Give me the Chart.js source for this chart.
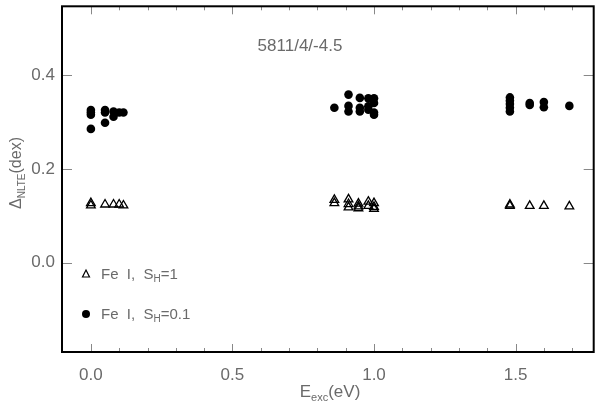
<!DOCTYPE html>
<html>
<head>
<meta charset="utf-8">
<script src="https://cdn.jsdelivr.net/npm/chart.js@4.4.0/dist/chart.umd.min.js"></script>
<style>
  html, body { margin: 0; padding: 0; background: #fff; }
  #wrap { width: 600px; height: 402px; }
</style>
</head>
<body>
<div id="wrap"><canvas id="nlteChart" width="600" height="402"></canvas></div>
<script>
// data
var eExcSH1 = [0.00, 0.00, 0.05, 0.08, 0.10, 0.115,
               0.86, 0.86, 0.91, 0.91, 0.91, 0.945, 0.945, 0.945, 0.98, 0.98, 1.00, 1.00, 1.00,
               1.48, 1.48, 1.55, 1.60, 1.69];
var nlteSH1 = [0.127, 0.122, 0.124, 0.124, 0.124, 0.122,
               0.134, 0.127, 0.135, 0.125, 0.118, 0.126, 0.120, 0.116, 0.130, 0.121, 0.127, 0.119, 0.115,
               0.124, 0.121, 0.121, 0.121, 0.120];

var eExcSH01 = [0.00, 0.00, 0.00, 0.00, 0.05, 0.05, 0.05, 0.08, 0.08, 0.10, 0.115,
                0.86, 0.91, 0.91, 0.91, 0.95, 0.95, 0.95, 0.98, 0.98, 0.98, 1.00, 1.00, 1.00, 1.00,
                1.48, 1.48, 1.48, 1.48, 1.48, 1.55, 1.55, 1.60, 1.60, 1.69];
var nlteSH01 = [0.325, 0.320, 0.315, 0.285, 0.325, 0.320, 0.298, 0.322, 0.311, 0.320, 0.320,
                0.330, 0.358, 0.334, 0.322, 0.351, 0.330, 0.322, 0.350, 0.333, 0.326, 0.350, 0.340, 0.320, 0.315,
                0.352, 0.345, 0.338, 0.330, 0.322, 0.340, 0.336, 0.342, 0.331, 0.334];

var xTickValues = [0.0, 0.5, 1.0, 1.5];
var yTickValues = [0.0, 0.2, 0.4];

var textGray = '#6a6a6a';
var fontFam = '"Liberation Sans", Arial, sans-serif';

function toPoints(xs, ys) {
    return xs.map(function (x, i) { return { x: x, y: ys[i] }; });
}

// draw a run of text pieces: [text, size, dy]
function drawRuns(ctx, runs, x, y, align) {
    var total = 0;
    runs.forEach(function (r) {
        ctx.font = r[1] + 'px ' + fontFam;
        total += ctx.measureText(r[0]).width;
    });
    var cx = align === 'center' ? x - total / 2 : x;
    runs.forEach(function (r) {
        ctx.font = r[1] + 'px ' + fontFam;
        ctx.fillText(r[0], cx, y + (r[2] || 0));
        cx += ctx.measureText(r[0]).width;
    });
}

var framePlugin = {
    id: 'frame',
    afterDraw: function (chart) {
        var ctx = chart.ctx;
        var a = chart.chartArea;
        var xs = chart.scales.x, ys = chart.scales.y;
        ctx.save();

        // inward ticks, major and minor
        ctx.lineWidth = 1;
        ctx.strokeStyle = '#888';
        for (var v = 0; v <= 1.7001; v += 0.1) {
            var px = Math.round(xs.getPixelForValue(v)) + 0.5;
            var major = Math.abs(v * 2 - Math.round(v * 2)) < 1e-6;
            var len = major ? 8 : 4;
            ctx.beginPath();
            ctx.moveTo(px, a.bottom); ctx.lineTo(px, a.bottom - len);
            ctx.moveTo(px, a.top); ctx.lineTo(px, a.top + len);
            ctx.stroke();
        }
        yTickValues.forEach(function (v) {
            var py = Math.round(ys.getPixelForValue(v)) + 0.5;
            ctx.beginPath();
            ctx.moveTo(a.left, py); ctx.lineTo(a.left + 10, py);
            ctx.moveTo(a.right, py); ctx.lineTo(a.right - 10, py);
            ctx.stroke();
        });

        // box
        ctx.strokeStyle = '#000';
        ctx.lineWidth = 2;
        ctx.strokeRect(a.left, a.top, a.right - a.left, a.bottom - a.top);

        // title inside plot
        ctx.fillStyle = textGray;
        ctx.textBaseline = 'alphabetic';
        ctx.textAlign = 'left';
        drawRuns(ctx, [['5811/4/-4.5', 17]], 300, 51, 'center');

        // legend
        var lx = 86;
        ctx.strokeStyle = '#000';
        ctx.lineWidth = 1.2;
        ctx.beginPath();
        ctx.moveTo(lx, 270); ctx.lineTo(lx + 3.5, 277); ctx.lineTo(lx - 3.5, 277); ctx.closePath();
        ctx.stroke();
        ctx.fillStyle = '#000';
        ctx.beginPath();
        ctx.arc(lx, 314, 4, 0, Math.PI * 2);
        ctx.fill();
        ctx.fillStyle = textGray;
        drawRuns(ctx, [['Fe  I,  S', 15], ['H', 10, 3], ['=1', 15]], 101, 279, 'left');
        drawRuns(ctx, [['Fe  I,  S', 15], ['H', 10, 3], ['=0.1', 15]], 101, 319, 'left');

        // axis titles
        drawRuns(ctx, [['E', 17], ['exc', 11, 4], ['(eV)', 17]], 330, 397, 'center');
        ctx.translate(21, 173);
        ctx.rotate(-Math.PI / 2);
        drawRuns(ctx, [['\u0394', 16], ['NLTE', 10, 4], ['(dex)', 16]], 0, 0, 'center');
        ctx.restore();
    }
};

var ctx = document.getElementById('nlteChart').getContext('2d');
var chart = new Chart(ctx, {
    type: 'scatter',
    data: {
        datasets: [{
            label: 'Fe I, SH=1',
            data: toPoints(eExcSH1, nlteSH1),
            pointStyle: 'triangle',
            pointRadius: 5,
            backgroundColor: 'rgba(255,255,255,0)',
            borderColor: '#000',
            borderWidth: 1.3
        }, {
            label: 'Fe I, SH=0.1',
            data: toPoints(eExcSH01, nlteSH01),
            pointStyle: 'circle',
            pointRadius: 4.3,
            backgroundColor: '#000',
            borderColor: '#000',
            borderWidth: 0
        }]
    },
    options: {
        responsive: false,
        animation: false,
        events: [],
        layout: { padding: { top: 3, right: 6, left: 0, bottom: 0 } },
        plugins: { legend: { display: false }, tooltip: { enabled: false } },
        scales: {
            x: {
                type: 'linear',
                min: -0.102,
                max: 1.776,
                grid: { display: false, drawTicks: false },
                border: { display: false },
                afterFit: function (s) { s.height = 50; },
                afterBuildTicks: function (s) {
                    s.ticks = xTickValues.map(function (v) { return { value: v }; });
                },
                ticks: {
                    padding: 13,
                    color: textGray,
                    font: { family: fontFam, size: 17 },
                    callback: function (v) { return v.toFixed(1); }
                }
            },
            y: {
                type: 'linear',
                min: -0.19,
                max: 0.546,
                grid: { display: false, drawTicks: false },
                border: { display: false },
                afterFit: function (s) {
                    s.width = 62;
                    s.paddingTop = 0;
                    s.paddingBottom = 0;
                },
                afterBuildTicks: function (s) {
                    s.ticks = yTickValues.map(function (v) { return { value: v }; });
                },
                ticks: {
                    padding: 7,
                    color: textGray,
                    font: { family: fontFam, size: 17 },
                    callback: function (v) { return v.toFixed(1); }
                }
            }
        }
    },
    plugins: [framePlugin]
});
</script>
</body>
</html>
